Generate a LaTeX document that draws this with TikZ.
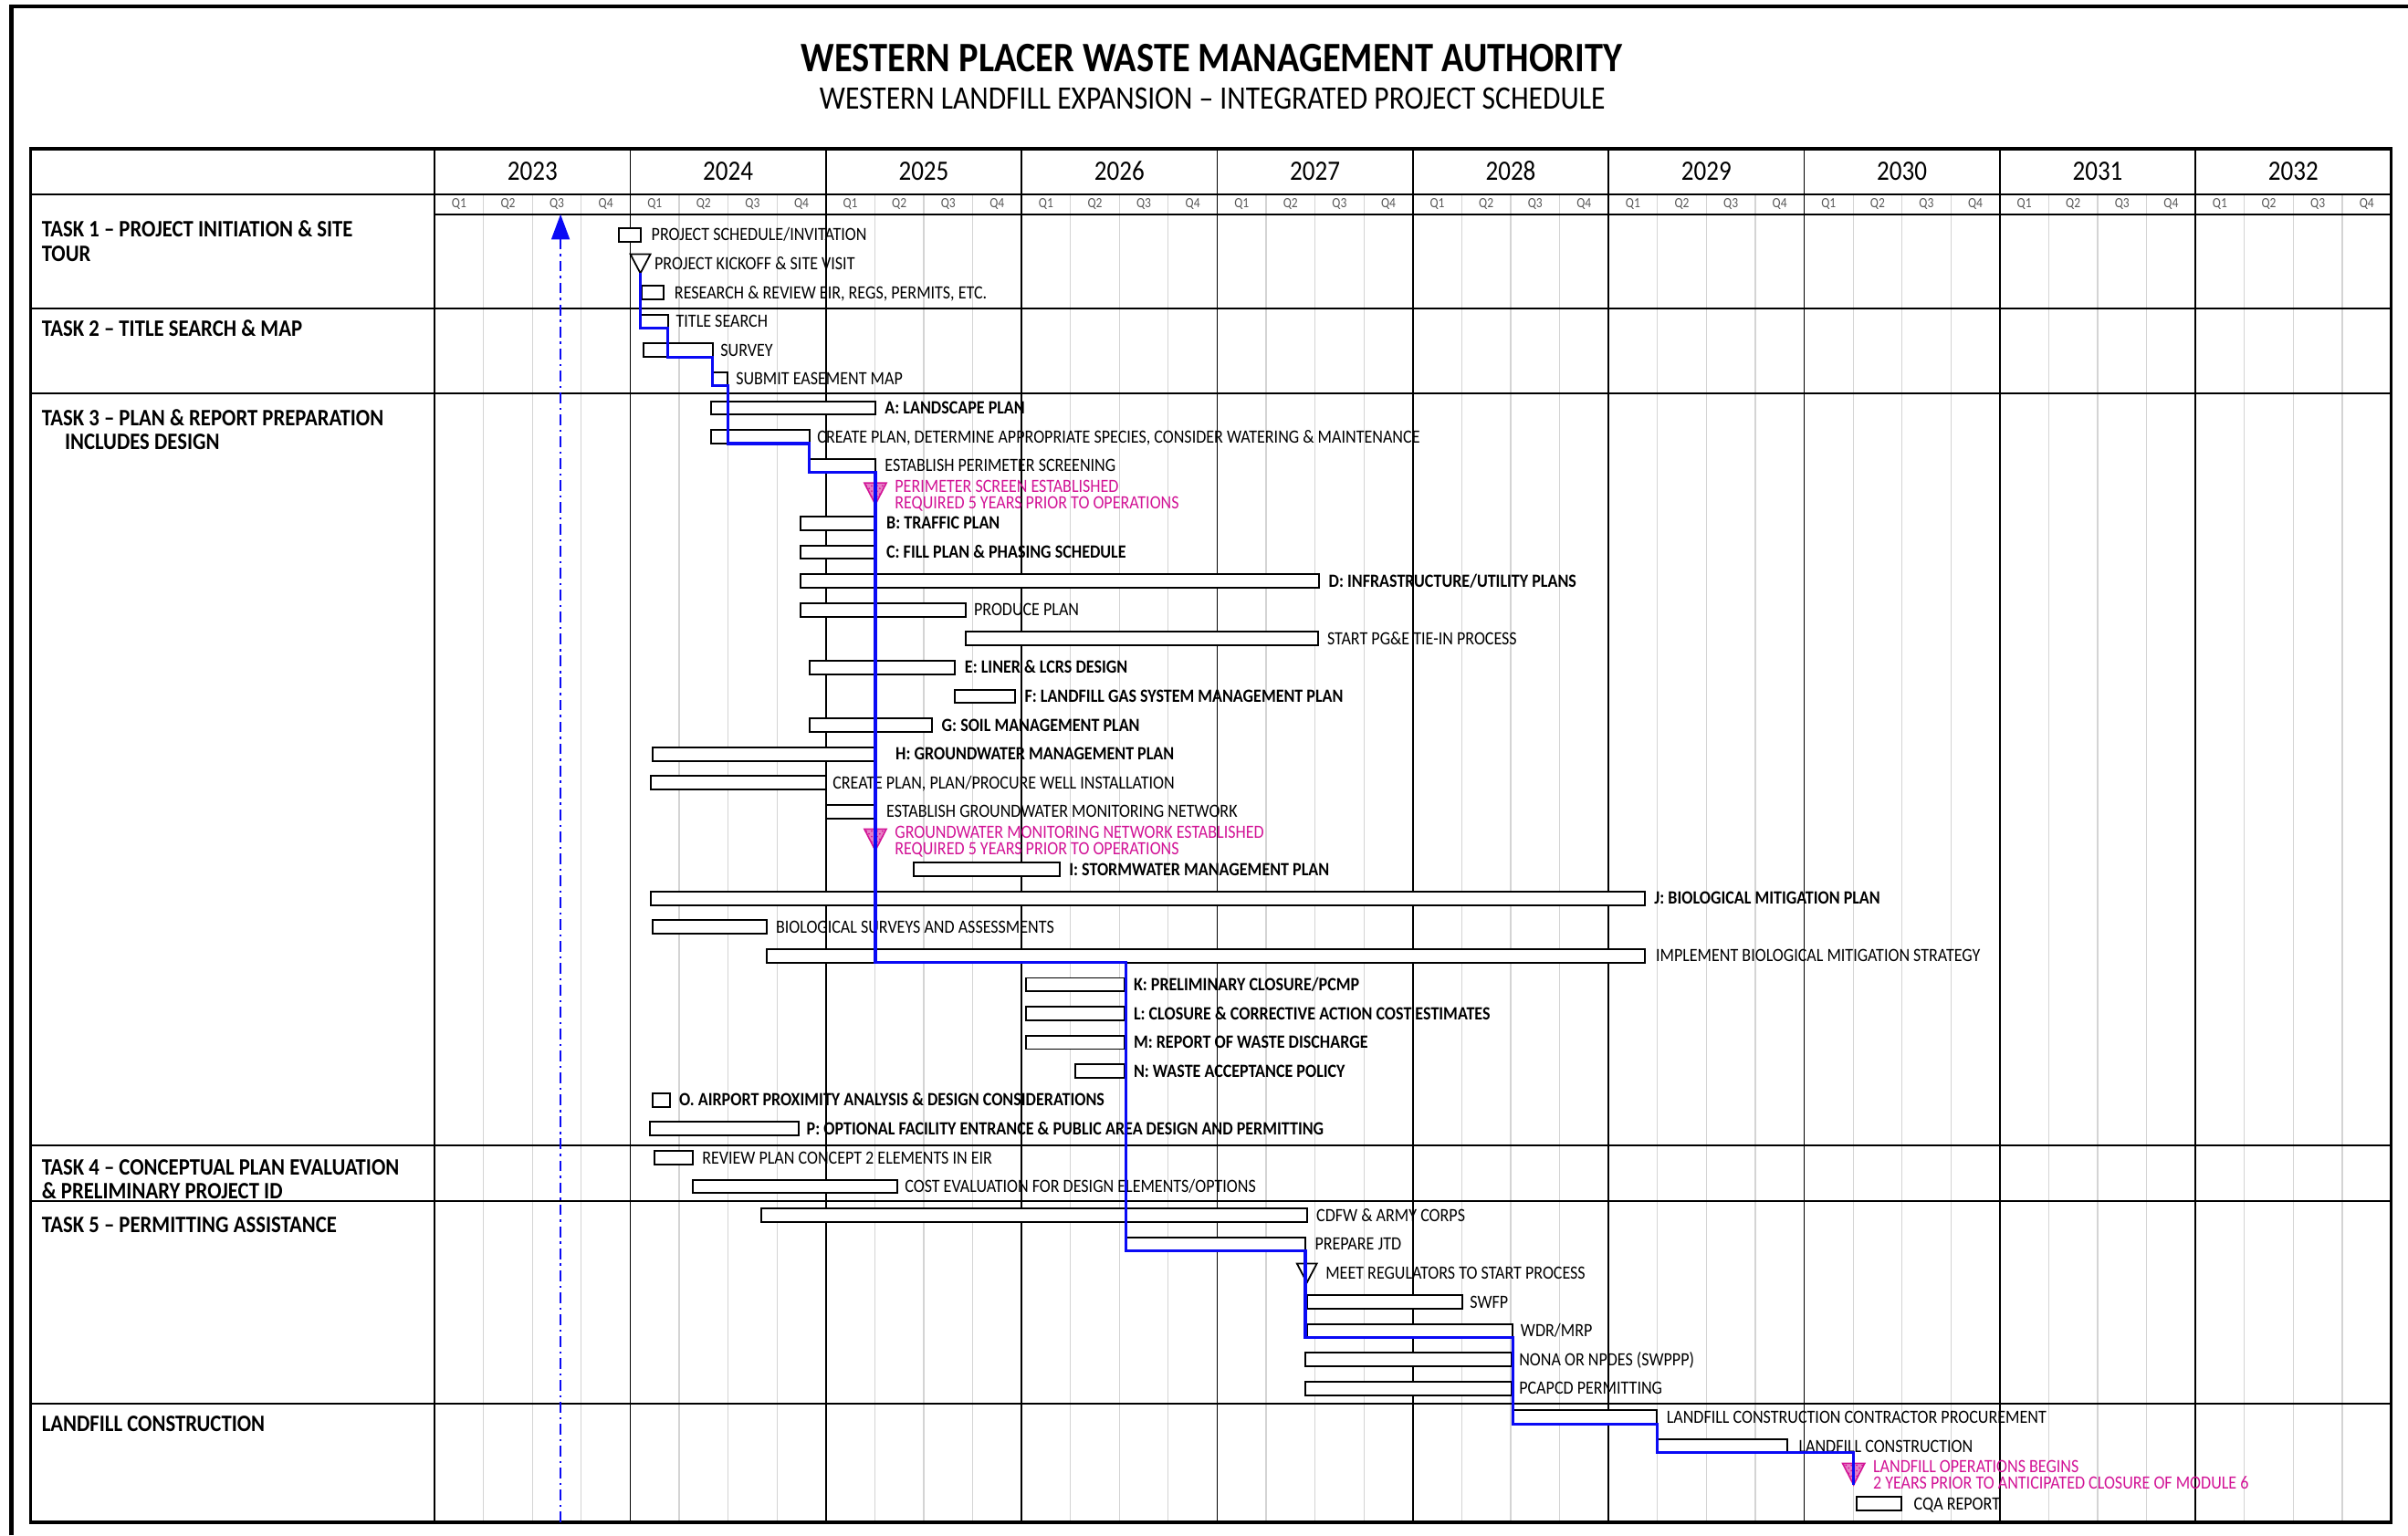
\documentclass[tikz,border=0pt]{standalone}
\usepackage{fontspec}
\setmainfont{Carlito}[FakeStretch=0.88]
\usetikzlibrary{fit,arrows.meta,patterns}

\definecolor{pinkms}{RGB}{210,20,150}
\definecolor{critblue}{RGB}{10,10,245}
\definecolor{qgrid}{RGB}{212,212,212}

\tikzset{
  barbox/.style={draw=black, line width=1pt, fill=white, inner sep=0pt, outer sep=0pt},
  lbl/.style={anchor=base west, inner sep=0pt, font=\fontsize{10.4}{11}\selectfont},
  blbl/.style={anchor=base west, inner sep=0pt, font=\fontsize{10.4}{11}\selectfont\bfseries},
  plbl/.style={anchor=base west, inner sep=0pt, text=pinkms, font=\fontsize{10.4}{11}\selectfont},
  tasklbl/.style={anchor=base west, inner sep=0pt, font=\fontsize{13.1}{14}\selectfont\bfseries},
  yearlbl/.style={inner sep=0pt, font=\fontsize{15.6}{17}\selectfont},
  qlbl/.style={inner sep=0pt, text=black!65, font=\fontsize{7.8}{8}\selectfont},
  qline/.style={draw=qgrid, line width=0.6pt},
  yline/.style={draw=black, line width=0.9pt},
  hline/.style={draw=black, line width=1.1pt},
  tframe/.style={draw=black, line width=1.8pt},
  msline/.style={draw=black, line width=0.9pt, fill=white, line join=miter},
  crit/.style={draw=critblue, line width=1.6pt, line join=miter},
  nowline/.style={draw=critblue, line width=1.3pt, dash pattern=on 6pt off 2.5pt on 1.2pt off 2.5pt,
     -{Triangle[length=14pt,width=10pt]}},
}

% bar: name, x1, x2, row, label x, label style, text
\newcommand\gbar[7]{%
  \node[barbox, fit={(#2,153+#4*18.78-4.4) (#3,153+#4*18.78+4.4)}] (#1) {};
  \node[#6] (#1t) at (#5,153+#4*18.78+3.9) {#7};}
% open milestone: name, apex x, row, label x, text
\newcommand\msopen[5]{%
  \coordinate (#1) at (#2,153+#3*18.78+6.2);
  \draw[msline] (#1) -- ++(-6.5,-12.4) -- ++(13,0) -- cycle;
  \node[lbl] (#1t) at (#4,153+#3*18.78+3.9) {#5};}
% pink milestone: name, apex x, row, line 1, line 2
\newcommand\mspink[5]{%
  \coordinate (#1) at (#2,153+#3*18.78+6.5);
  \filldraw[draw=pinkms, fill=pinkms!55, line width=0.8pt, line join=miter] (#1) -- ++(-7.2,-14) -- ++(14.4,0) -- cycle;
  \fill[pattern=crosshatch dots, pattern color=pinkms] (#1) -- ++(-7.2,-14) -- ++(14.4,0) -- cycle;
  \node[plbl] (#1a) at (#2+12.5,153+#3*18.78-5.2+3.9) {#4};
  \node[plbl] (#1b) at (#2+12.5,153+#3*18.78+5.2+3.9) {#5};}

\begin{document}
\begin{tikzpicture}[x=0.03cm, y=-0.03cm]
\useasboundingbox (0,0) rectangle (1568,1000);
\fill[white] (0,0) rectangle (1568,1000);

% outer frame (top and left visible)
\draw[line width=2.2pt] (7.5,1000) -- (7.5,4) -- (1568,4);

% title
\node[font=\fontsize{23.3}{26}\selectfont\bfseries, inner sep=0pt] (title) at (789,38) {WESTERN PLACER WASTE MANAGEMENT AUTHORITY};
\node[font=\fontsize{18.2}{20}\selectfont, inner sep=0pt] (subtitle) at (789.5,64) {WESTERN LANDFILL EXPANSION – INTEGRATED PROJECT SCHEDULE};

% grid
\foreach \k in {1,...,39} \draw[qline] ({283+\k*31.85},126.5) -- ({283+\k*31.85},991.5);
\foreach \k in {0,...,9} \draw[yline] ({283+\k*127.4},97) -- ({283+\k*127.4},991.5);
\draw[hline] (20,126.5) -- (1557,126.5);
\draw[hline] (283,139.5) -- (1557,139.5);
\foreach \yy in {201,256,746,782,914} \draw[hline] (20,\yy) -- (1557,\yy);
\draw[tframe] (20,97) rectangle (1557,991.5);

% header
\foreach \yr [count=\i from 0] in {2023,...,2032}
  \node[yearlbl] (y\yr) at ({283+(\i+0.5)*127.4},111.5) {\yr};
\foreach \k in {0,...,39} {
  \pgfmathtruncatemacro\qq{mod(\k,4)+1}
  \node[qlbl] (q\k) at ({283+(\k+0.5)*31.85},133) {Q\qq};
}

% task labels
\node[tasklbl] (t1a) at (27,154.5) {TASK 1 – PROJECT INITIATION \& SITE};
\node[tasklbl] (t1b) at (27,170) {TOUR};
\node[tasklbl] (t2) at (27,219) {TASK 2 – TITLE SEARCH \& MAP};
\node[tasklbl] (t3a) at (27,277) {TASK 3 – PLAN \& REPORT PREPARATION};
\node[tasklbl] (t3b) at (42,293) {INCLUDES DESIGN};
\node[tasklbl] (t4a) at (27,765) {TASK 4 – CONCEPTUAL PLAN EVALUATION};
\node[tasklbl] (t4b) at (27,781) {\& PRELIMINARY PROJECT ID};
\node[tasklbl] (t5) at (27,803) {TASK 5 – PERMITTING ASSISTANCE};
\node[tasklbl] (t6) at (27,932) {LANDFILL CONSTRUCTION};

% "now" marker
\coordinate (nowtop) at (365,139.5);
\coordinate (nowbot) at (365,991.5);
\draw[nowline] (nowbot) -- (nowtop);

% bars
\gbar{ps}{403}{417}{0}{424}{lbl}{PROJECT SCHEDULE/INVITATION}
\msopen{kick}{417}{1}{426}{PROJECT KICKOFF \& SITE VISIT}
\gbar{rr}{418}{432}{2}{439}{lbl}{RESEARCH \& REVIEW EIR, REGS, PERMITS, ETC.}
\gbar{ts}{417}{435}{3}{440}{lbl}{TITLE SEARCH}
\gbar{sv}{419}{464}{4}{469}{lbl}{SURVEY}
\gbar{em}{464}{474}{5}{479}{lbl}{SUBMIT EASEMENT MAP}
\gbar{lp}{463}{570}{6}{576}{blbl}{A: LANDSCAPE PLAN}
\gbar{cpa}{463}{527}{7}{532}{lbl}{CREATE PLAN, DETERMINE APPROPRIATE SPECIES, CONSIDER WATERING \& MAINTENANCE}
\gbar{eps}{527}{570}{8}{576}{lbl}{ESTABLISH PERIMETER SCREENING}
\mspink{msa}{570}{9}{PERIMETER SCREEN ESTABLISHED}{REQUIRED 5 YEARS PRIOR TO OPERATIONS}
\gbar{tp}{521}{570}{10}{577}{blbl}{B: TRAFFIC PLAN}
\gbar{fp}{521}{570}{11}{577}{blbl}{C: FILL PLAN \& PHASING SCHEDULE}
\gbar{iu}{521}{859}{12}{865}{blbl}{D: INFRASTRUCTURE/UTILITY PLANS}
\gbar{pp}{521}{629}{13}{634}{lbl}{PRODUCE PLAN}
\gbar{pge}{629}{858}{14}{864}{lbl}{START PG\&E TIE-IN PROCESS}
\gbar{ld}{527}{622}{15}{628}{blbl}{E: LINER \& LCRS DESIGN}
\gbar{lfg}{622}{661}{16}{667}{blbl}{F: LANDFILL GAS SYSTEM MANAGEMENT PLAN}
\gbar{sm}{527}{607}{17}{613}{blbl}{G: SOIL MANAGEMENT PLAN}
\gbar{gw}{425}{570}{18}{583}{blbl}{H: GROUNDWATER MANAGEMENT PLAN}
\gbar{wi}{424}{538}{19}{542}{lbl}{CREATE PLAN, PLAN/PROCURE WELL INSTALLATION}
\gbar{gmn}{538}{570}{20}{577}{lbl}{ESTABLISH GROUNDWATER MONITORING NETWORK}
\mspink{msb}{570}{21}{GROUNDWATER MONITORING NETWORK ESTABLISHED}{REQUIRED 5 YEARS PRIOR TO OPERATIONS}
\gbar{sw}{595}{690}{22}{696}{blbl}{I: STORMWATER MANAGEMENT PLAN}
\gbar{bm}{424}{1071}{23}{1077}{blbl}{J: BIOLOGICAL MITIGATION PLAN}
\gbar{bs}{425}{499}{24}{505}{lbl}{BIOLOGICAL SURVEYS AND ASSESSMENTS}
\gbar{impl}{499}{1071}{25}{1078}{lbl}{IMPLEMENT BIOLOGICAL MITIGATION STRATEGY}
\gbar{pc}{668}{732}{26}{738}{blbl}{K: PRELIMINARY CLOSURE/PCMP}
\gbar{ce}{668}{732}{27}{738}{blbl}{L: CLOSURE \& CORRECTIVE ACTION COST ESTIMATES}
\gbar{rw}{668}{732}{28}{738}{blbl}{M: REPORT OF WASTE DISCHARGE}
\gbar{wa}{700}{732}{29}{738}{blbl}{N: WASTE ACCEPTANCE POLICY}
\gbar{ap}{425}{436}{30}{442}{blbl}{O. AIRPORT PROXIMITY ANALYSIS \& DESIGN CONSIDERATIONS}
\gbar{fe}{423}{520}{31}{525}{blbl}{P: OPTIONAL FACILITY ENTRANCE \& PUBLIC AREA DESIGN AND PERMITTING}
\gbar{rp}{426}{451}{32}{457}{lbl}{REVIEW PLAN CONCEPT 2 ELEMENTS IN EIR}
\gbar{cev}{451}{584}{33}{589}{lbl}{COST EVALUATION FOR DESIGN ELEMENTS/OPTIONS}
\gbar{cd}{496}{851}{34}{857}{lbl}{CDFW \& ARMY CORPS}
\gbar{jtd}{733}{850}{35}{856}{lbl}{PREPARE JTD}
\msopen{meet}{851}{36}{863}{MEET REGULATORS TO START PROCESS}
\gbar{swfp}{851}{952}{37}{957}{lbl}{SWFP}
\gbar{wdr}{851}{985}{38}{990}{lbl}{WDR/MRP}
\gbar{npdes}{850}{984}{39}{989}{lbl}{NONA OR NPDES (SWPPP)}
\gbar{pcap}{850}{984}{40}{989}{lbl}{PCAPCD PERMITTING}
\gbar{lcc}{985}{1079}{41}{1085}{lbl}{LANDFILL CONSTRUCTION CONTRACTOR PROCUREMENT}
\gbar{lc}{1079}{1164}{42}{1171}{lbl}{LANDFILL CONSTRUCTION}
\mspink{msop}{1207}{43}{LANDFILL OPERATIONS BEGINS}{2 YEARS PRIOR TO ANTICIPATED CLOSURE OF MODULE 6}
\gbar{cqa}{1209}{1238}{44}{1246}{lbl}{CQA REPORT}

% critical path
\draw[crit] (kick) |- (ts.south east) |- (sv.south east) |- (em.south east)
  |- (cpa.south east) |- (eps.south east) |- (jtd.south west |- impl.south)
  |- (jtd.south east) |- (wdr.south east) |- (lcc.south east)
  |- (msop |- lc.south) -- (msop);
\end{tikzpicture}
\end{document}
